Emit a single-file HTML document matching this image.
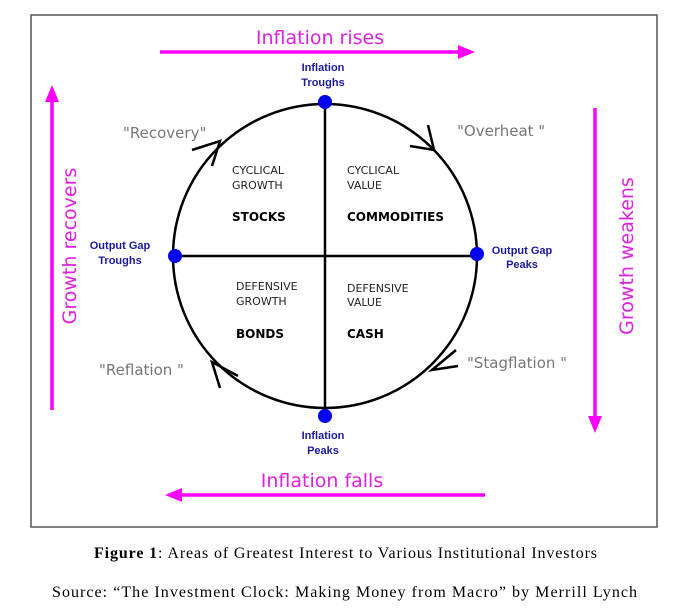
<!DOCTYPE html>
<html><head><style>
body{margin:0;background:#fff;}
svg{display:block;}
</style></head><body>
<svg width="675" height="611" viewBox="0 0 675 611" xmlns="http://www.w3.org/2000/svg">
<rect x="31" y="15" width="626" height="512" fill="#fff" stroke="#555" stroke-width="1.5"/>
<g stroke="#f0f" stroke-width="3.5" fill="#f0f">
<line x1="160" y1="52" x2="462" y2="52"/><polygon points="475,52 458,45 458,59" stroke="none"/>
<line x1="485" y1="495" x2="178" y2="495"/><polygon points="165,495 182,488 182,502" stroke="none"/>
<line x1="52" y1="410" x2="52" y2="98"/><polygon points="52,85 45,102 59,102" stroke="none"/>
<line x1="595" y1="108" x2="595" y2="420"/><polygon points="595,433 588,416 602,416" stroke="none"/>
</g>
<g font-family="'Comic Sans MS','DejaVu Sans',sans-serif" fill="#e020e0" font-size="19">
<text x="320" y="44" text-anchor="middle">Inflation rises</text>
<text x="322" y="487" text-anchor="middle">Inflation falls</text>
<text transform="translate(76,246) rotate(-90)" text-anchor="middle">Growth recovers</text>
<text transform="translate(633,256) rotate(-90)" text-anchor="middle">Growth weakens</text>
</g>
<circle cx="325" cy="256" r="152" fill="none" stroke="#000" stroke-width="2.5"/>
<line x1="325" y1="102" x2="325" y2="416" stroke="#000" stroke-width="2.5"/>
<line x1="175" y1="256" x2="477" y2="256" stroke="#000" stroke-width="2.5"/>
<g stroke="#000" stroke-width="2.5" fill="none">
<polyline points="192,150 220,141 212,166"/>
<polyline points="428,125 434,150 410,146"/>
<polyline points="456,350 432,370 458,366"/>
<polyline points="238,376 212,362 220,388"/>
</g>
<g fill="#0000ee">
<circle cx="325" cy="102" r="7"/><circle cx="325" cy="416" r="7"/>
<circle cx="175" cy="256" r="7"/><circle cx="477" cy="254" r="7"/>
</g>
<g font-family="'Liberation Sans',sans-serif" font-weight="bold" font-size="11" fill="#1a1aa0" text-anchor="middle">
<text x="323" y="71">Inflation</text><text x="323" y="86">Troughs</text>
<text x="323" y="439">Inflation</text><text x="323" y="454">Peaks</text>
<text x="120" y="249">Output Gap</text><text x="120" y="264">Troughs</text>
<text x="522" y="254">Output Gap</text><text x="522" y="268">Peaks</text>
</g>
<g font-family="'Comic Sans MS','DejaVu Sans',sans-serif" fill="#777" font-size="15">
<text x="123" y="138">"Recovery"</text>
<text x="457" y="136">"Overheat "</text>
<text x="467" y="368">"Stagflation "</text>
<text x="99" y="375">"Reflation "</text>
</g>
<g font-family="'Comic Sans MS','DejaVu Sans',sans-serif" fill="#222" font-size="11">
<text x="232" y="174">CYCLICAL</text><text x="232" y="189">GROWTH</text>
<text x="347" y="174">CYCLICAL</text><text x="347" y="189">VALUE</text>
<text x="236" y="290">DEFENSIVE</text><text x="236" y="305">GROWTH</text>
<text x="347" y="292">DEFENSIVE</text><text x="347" y="306">VALUE</text>
</g>
<g font-family="'Comic Sans MS','DejaVu Sans',sans-serif" fill="#000" font-size="12" font-weight="bold">
<text x="232" y="221">STOCKS</text>
<text x="347" y="221">COMMODITIES</text>
<text x="236" y="338">BONDS</text>
<text x="347" y="338">CASH</text>
</g>
<g font-family="'Liberation Serif',serif" font-size="16" fill="#000">
<text x="94" y="558" textLength="503" lengthAdjust="spacing"><tspan font-weight="bold">Figure 1</tspan>: Areas of Greatest Interest to Various Institutional Investors</text>
<text x="52" y="597" textLength="585" lengthAdjust="spacing">Source: “The Investment Clock: Making Money from Macro” by Merrill Lynch</text>
</g>
</svg>
</body></html>
